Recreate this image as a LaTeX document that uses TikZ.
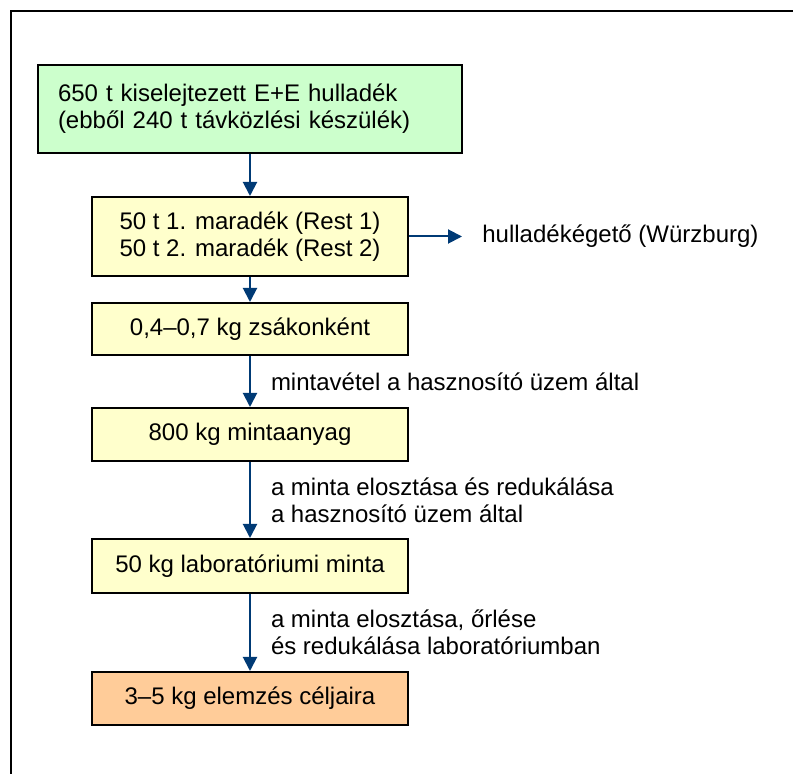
\documentclass[tikz,border=0pt]{standalone}
\usepackage{fontspec}
\setmainfont{Liberation Sans}
\usetikzlibrary{arrows.meta}

\definecolor{boxgreen}{HTML}{CCFFCC}
\definecolor{boxyellow}{HTML}{FFFFCC}
\definecolor{boxorange}{HTML}{FFCC99}
\definecolor{flowblue}{HTML}{003A75}

\begin{document}
\begin{tikzpicture}[x=0.5pt, y=-0.5pt,
	every node/.style={font=\fontsize{12}{13.5}\selectfont},
	box/.style={draw=black, line width=1pt, fill=boxyellow, minimum width=158pt, align=center, inner sep=0pt},
	flow/.style={-{Triangle[width=7pt,length=7pt]}, line width=1pt, draw=flowblue},
	note/.style={midway, right=10pt, align=left, inner sep=0pt}]
	\useasboundingbox (0,0) rectangle (793,774);
	\draw[line width=1pt] (11,774) -- (11,11) -- (793,11);

	\node[box, fill=boxgreen, minimum height=44pt, text width=192pt, align=left, inner xsep=10pt] (waste) at (250,109)
		{650 t kiselejtezett E+E hulladék\\(ebből 240 t távközlési készülék)};
	\node[box, minimum height=39.5pt]	(rest)		at (250,236.5)	{50 t 1. maradék (Rest 1)\\50 t 2. maradék (Rest 2)};
	\node[box, minimum height=26pt]		(bag)		at (250,329)	{0,4–0,7 kg zsákonként};
	\node[box, minimum height=26.5pt]	(sample)	at (250,434.5)	{800 kg mintaanyag};
	\node[box, minimum height=27pt]		(labsample)	at (250,566)	{50 kg laboratóriumi minta};
	\node[box, fill=boxorange, minimum height=26.5pt] (analysis) at (250,698.5) {3–5 kg elemzés céljaira};
	\node[anchor=west, inner sep=0pt]	(burn)		at (482,236.5)	{hulladékégető (Würzburg)};

	\draw[flow] (waste) -- (rest);
	\draw[flow, shorten >=10pt] (rest) -- (burn);
	\draw[flow] (rest) -- (bag);
	\draw[flow] (bag) -- (sample) node[note] {mintavétel a hasznosító üzem által};
	\draw[flow] (sample) -- (labsample) node[note] {a minta elosztása és redukálása\\a hasznosító üzem által};
	\draw[flow] (labsample) -- (analysis) node[note] {a minta elosztása, őrlése\\és redukálása laboratóriumban};
\end{tikzpicture}
\end{document}
